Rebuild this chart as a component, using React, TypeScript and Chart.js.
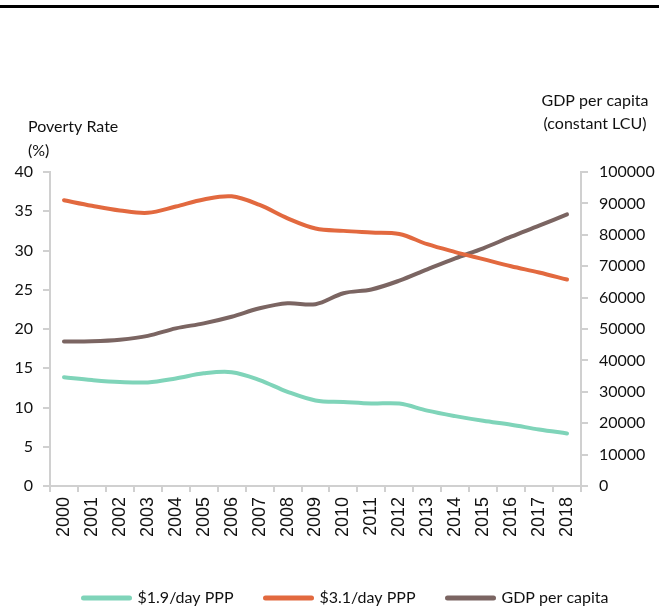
import { useEffect, useRef } from "react";
import { Chart, registerables } from "chart.js";

Chart.register(...registerables);

const years = ["2000", "2001", "2002", "2003", "2004", "2005", "2006", "2007", "2008", "2009", "2010", "2011", "2012", "2013", "2014", "2015", "2016", "2017", "2018"];
const poverty19 = [13.85, 13.5, 13.25, 13.2, 13.7, 14.35, 14.5, 13.5, 12.0, 10.9, 10.7, 10.5, 10.5, 9.6, 8.9, 8.3, 7.8, 7.2, 6.7];
const poverty31 = [36.4, 35.7, 35.1, 34.8, 35.6, 36.5, 36.9, 35.8, 34.1, 32.8, 32.5, 32.3, 32.1, 30.8, 29.8, 28.9, 28.0, 27.2, 26.3];
const gdpPerCapita = [46000, 46100, 46600, 47800, 50200, 51800, 53900, 56600, 58200, 57900, 61400, 62600, 65400, 69000, 72500, 75700, 79400, 82900, 86500];
const seriesNames = ["$1.9/day PPP", "$3.1/day PPP", "GDP per capita"];
const seriesColors = ["#7fd4b9", "#e2693f", "#7b6562"];
const leftTitle = ["Poverty Rate", "(%)"];
const rightTitle = ["GDP per capita", "(constant LCU)"];

const axisTitles = {
  id: "axisTitles",
  afterDraw(chart: any) {
    const ctx = chart.ctx;
    const { left, right, top } = chart.chartArea;
    ctx.save();
    ctx.font = "16px Lato";
    ctx.fillStyle = "#111";
    ctx.textBaseline = "middle";
    ctx.textAlign = "left";
    ctx.fillText(leftTitle[0], left - 22, top - 45);
    ctx.fillText(leftTitle[1], left - 22, top - 21);
    ctx.textAlign = "center";
    ctx.fillText(rightTitle[0], right + 14, top - 71);
    ctx.fillText(rightTitle[1], right + 14, top - 48);
    ctx.restore();
  },
};

export default function App() {
  const ref = useRef<HTMLCanvasElement | null>(null);

  useEffect(() => {
    if (!ref.current) return;
    const axisColor = "#d0d0d0";
    const chart = new Chart(ref.current, {
      type: "line",
      data: {
        labels: years,
        datasets: [
          { label: seriesNames[0], data: poverty19, yAxisID: "y", borderColor: seriesColors[0], backgroundColor: seriesColors[0] },
          { label: seriesNames[1], data: poverty31, yAxisID: "y", borderColor: seriesColors[1], backgroundColor: seriesColors[1] },
          { label: seriesNames[2], data: gdpPerCapita, yAxisID: "y1", borderColor: seriesColors[2], backgroundColor: seriesColors[2] },
        ].map((d) => ({ ...d, borderWidth: 4, pointRadius: 0, tension: 0.35, borderCapStyle: "round" as const, fill: false })),
      },
      options: {
        responsive: false,
        devicePixelRatio: 1,
        animation: false,
        layout: { padding: { top: 172, left: 12, right: -21, bottom: 0 } },
        plugins: {
          tooltip: { enabled: false },
          legend: {
            position: "bottom",
            align: "center",
            maxHeight: 56,
            labels: {
              usePointStyle: true,
              pointStyle: "line",
              pointStyleWidth: 46,
              padding: 32,
              color: "#111",
              font: { family: "Lato", size: 16 },
              generateLabels: (ch: any) =>
                ch.data.datasets.map((ds: any, i: number) => ({
                  text: ds.label,
                  fillStyle: ds.borderColor,
                  strokeStyle: ds.borderColor,
                  lineWidth: 5,
                  lineCap: "round",
                  pointStyle: "line",
                  hidden: false,
                  datasetIndex: i,
                  fontColor: "#111",
                })),
            },
          },
        },
        scales: {
          x: {
            type: "category",
            offset: true,
            afterFit: (s: any) => { s.height = 72; },
            grid: { offset: true, drawOnChartArea: false, drawTicks: true, tickLength: 6, color: axisColor, lineWidth: 2 },
            border: { display: true, color: axisColor, width: 2 },
            ticks: { autoSkip: false, maxRotation: 90, minRotation: 90, padding: 5, color: "#111", font: { family: "Liberation Sans", size: 18 } },
          },
          y: {
            position: "left",
            min: 0,
            max: 40,
            afterFit: (s: any) => { s.width = 38; },
            grid: { drawOnChartArea: false, drawTicks: true, tickLength: 7, color: axisColor, lineWidth: 2 },
            border: { display: true, color: axisColor, width: 2 },
            ticks: { stepSize: 5, padding: 10, color: "#111", font: { family: "Lato", size: 16 }, callback: (v: any) => String(v) },
          },
          y1: {
            position: "right",
            min: 0,
            max: 100000,
            afterFit: (s: any) => { s.width = 99; },
            grid: { drawOnChartArea: false, drawTicks: true, tickLength: 7, color: axisColor, lineWidth: 2 },
            border: { display: true, color: axisColor, width: 2 },
            ticks: { stepSize: 10000, padding: 11, color: "#111", font: { family: "Lato", size: 16 }, callback: (v: any) => String(v) },
          },
        },
      },
      plugins: [axisTitles],
    });
    return () => chart.destroy();
  }, []);

  return (
    <div style={{ position: "fixed", left: 0, top: 0, width: 659, height: 614, background: "#fff", overflow: "hidden" }}>
      <canvas ref={ref} width={659} height={614} style={{ position: "absolute", left: 0, top: 0, width: 659, height: 614 }} />
      <div style={{ position: "absolute", left: 0, top: 5, width: 659, height: 3, background: "#000" }} />
    </div>
  );
}
